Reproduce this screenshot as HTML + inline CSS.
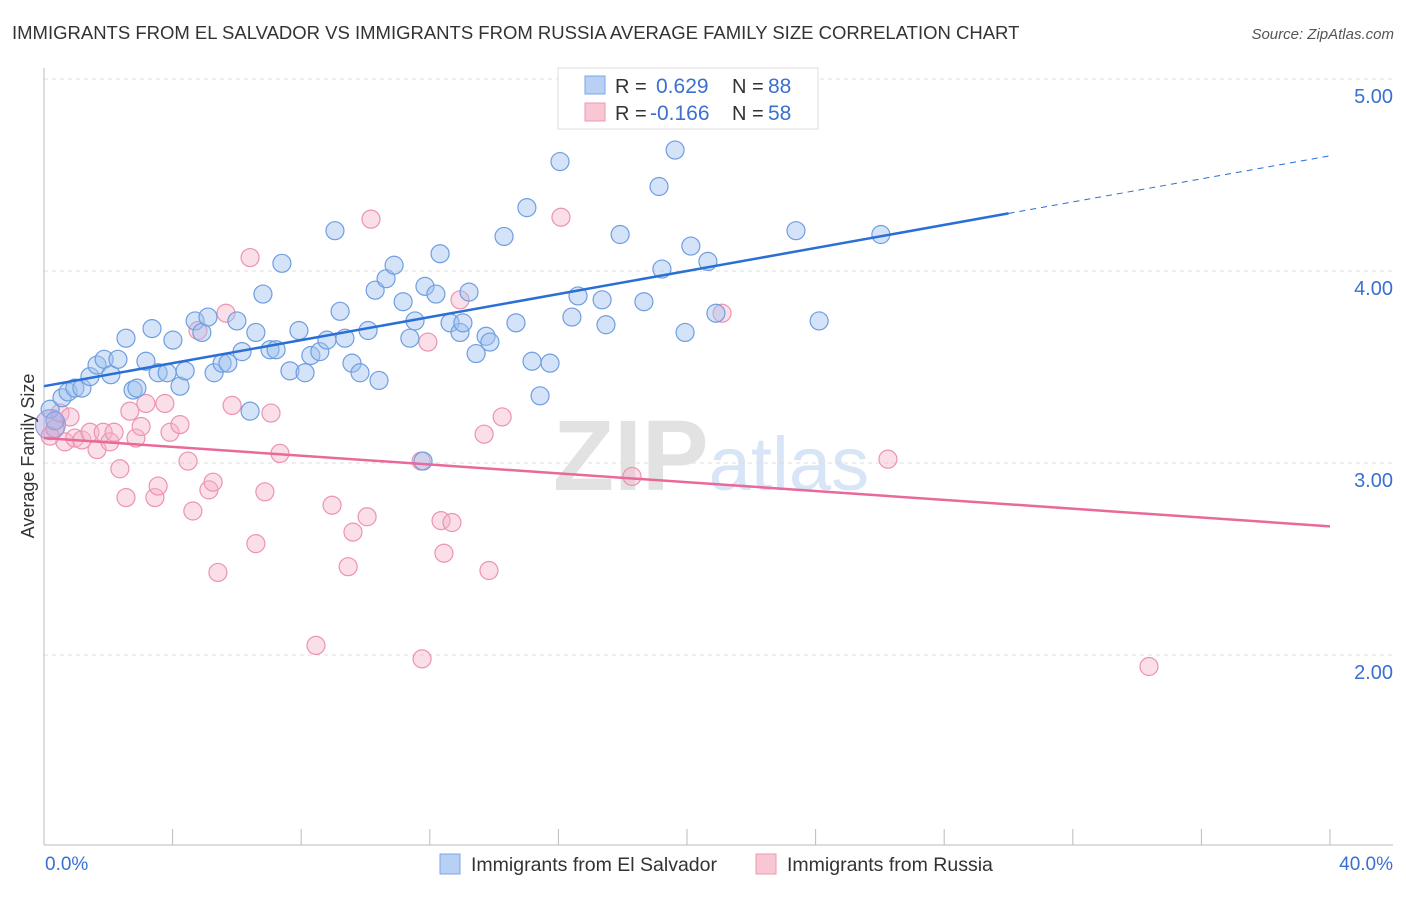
<!DOCTYPE html>
<html><head><meta charset="utf-8"><style>
body{margin:0;background:#fff;font-family:"Liberation Sans",sans-serif;}
svg text{font-family:"Liberation Sans",sans-serif;}
</style></head><body>
<svg id="chart" width="1406" height="892" viewBox="0 0 1406 892">
<text x="12" y="39" font-size="18.5" fill="#333">IMMIGRANTS FROM EL SALVADOR VS IMMIGRANTS FROM RUSSIA AVERAGE FAMILY SIZE CORRELATION CHART</text>
<text x="1394" y="39" font-size="15" fill="#555" font-style="italic" text-anchor="end">Source: ZipAtlas.com</text>
<text x="553" y="490" font-size="100" fill="#e6e6e6" font-family="Liberation Serif"><tspan font-weight="bold" fill="#e2e2e2">ZIP</tspan><tspan fill="#d8e5f6" font-family="Liberation Sans" font-size="76">atlas</tspan></text>
<g id="grid"></g>
<g id="axes"></g>
<g id="pts"></g>
<g id="trend"></g>
<text transform="translate(34,456) rotate(-90)" font-size="18" fill="#333" text-anchor="middle">Average Family Size</text>
<g>
<rect x="558" y="68" width="260" height="61" fill="#fff" stroke="#ddd"/>
<rect x="585" y="76" width="20" height="18" fill="#b7d0f3" stroke="#7aa7e6"/>
<text x="615" y="93" font-size="20" fill="#333">R = </text><text x="656" y="93" font-size="21" fill="#3a70d0">0.629</text>
<text x="732" y="93" font-size="20" fill="#333">N = </text><text x="768" y="93" font-size="21" fill="#3a70d0">88</text>
<rect x="585" y="103" width="20" height="18" fill="#f9c6d4" stroke="#ec9ab3"/>
<text x="615" y="120" font-size="20" fill="#333">R = </text><text x="650" y="120" font-size="21" fill="#3a70d0">-0.166</text>
<text x="732" y="120" font-size="20" fill="#333">N = </text><text x="768" y="120" font-size="21" fill="#3a70d0">58</text>
</g>
<g>
<rect x="440" y="854" width="20" height="20" fill="#b7d0f3" stroke="#7aa7e6"/>
<text x="471" y="871" font-size="19.5" fill="#333">Immigrants from El Salvador</text>
<rect x="756" y="854" width="20" height="20" fill="#f9c6d4" stroke="#ec9ab3"/>
<text x="787" y="871" font-size="19.5" fill="#333">Immigrants from Russia</text>
</g>
<text x="45" y="870" font-size="19" fill="#3a70d0">0.0%</text>
<text x="1393" y="870" font-size="19" fill="#3a70d0" text-anchor="end">40.0%</text>
</svg>
<script>
const yTicks=[2,3,4,5];
const yTickLabels=["2.00","3.00","4.00","5.00"];
const xTicks=[0,4,8,12,16,20,24,28,32,36,40];
const blueX=[0.19,0.34,0.56,0.75,0.96,1.18,1.43,1.65,1.87,2.08,2.30,2.55,2.77,2.89,3.17,3.36,3.55,3.83,4.01,4.23,4.39,4.70,4.91,5.10,5.29,5.54,5.72,6.00,6.16,6.41,6.59,6.81,7.03,7.22,7.40,7.65,7.93,8.12,8.30,8.58,8.80,9.05,9.21,9.36,9.58,9.83,10.08,10.30,10.42,10.64,10.89,11.17,11.38,11.54,11.79,11.85,12.19,12.32,12.63,12.94,13.03,13.22,13.44,13.75,13.87,14.31,14.68,15.02,15.18,15.43,15.74,16.05,16.42,16.61,17.36,17.48,17.92,18.66,19.13,19.22,19.63,19.94,20.12,20.65,20.90,23.39,24.11,26.03];
const blueY=[3.28,3.22,3.34,3.37,3.39,3.39,3.45,3.51,3.54,3.46,3.54,3.65,3.38,3.39,3.53,3.70,3.47,3.47,3.64,3.40,3.48,3.74,3.68,3.76,3.47,3.52,3.52,3.74,3.58,3.27,3.68,3.88,3.59,3.59,4.04,3.48,3.69,3.47,3.56,3.58,3.64,4.21,3.79,3.65,3.52,3.47,3.69,3.90,3.43,3.96,4.03,3.84,3.65,3.74,3.01,3.92,3.88,4.09,3.73,3.68,3.73,3.89,3.57,3.66,3.63,4.18,3.73,4.33,3.53,3.35,3.52,4.57,3.76,3.87,3.85,3.72,4.19,3.84,4.44,4.01,4.63,3.68,4.13,4.05,3.78,4.21,3.74,4.19];
const pinkX=[0.19,0.34,0.50,0.65,0.81,0.96,1.18,1.43,1.65,1.84,2.05,2.18,2.36,2.55,2.67,2.86,3.02,3.17,3.45,3.55,3.76,3.92,4.23,4.48,4.63,4.79,5.13,5.26,5.41,5.66,5.85,6.41,6.59,6.87,7.06,7.34,8.46,8.96,9.46,9.61,10.05,10.17,11.73,11.76,11.94,12.35,12.44,12.69,12.94,13.69,13.84,14.25,16.08,18.29,21.09,26.25,34.37];
const pinkY=[3.14,3.18,3.26,3.11,3.24,3.13,3.12,3.16,3.07,3.16,3.11,3.16,2.97,2.82,3.27,3.13,3.19,3.31,2.82,2.88,3.31,3.16,3.20,3.01,2.75,3.69,2.86,2.90,2.43,3.78,3.30,4.07,2.58,2.85,3.26,3.05,2.05,2.78,2.46,2.64,2.72,4.27,3.01,1.98,3.63,2.70,2.53,2.69,3.85,3.15,2.44,3.24,4.28,2.93,3.78,3.02,1.94];
const blueTrend=[3.40,4.30,4.60]; // at x=0, 30, 40
const pinkTrend=[3.13,2.67]; // at x=0, 40

const NS="http://www.w3.org/2000/svg";
const X=v=>44+v/40*1286;
const Y=v=>463-(v-3)*192;
function mk(tag,attrs,parent){const e=document.createElementNS(NS,tag);for(const k in attrs)e.setAttribute(k,attrs[k]);parent.appendChild(e);return e;}
const grid=document.getElementById('grid'),axes=document.getElementById('axes'),pts=document.getElementById('pts'),trend=document.getElementById('trend');
yTicks.forEach((t,i)=>{
 const l=mk('line',{x1:44,x2:1393,y1:Y(t),y2:Y(t),stroke:'#ddd','stroke-dasharray':'4,4'},grid);
 
 
 const tx=mk('text',{x:1393,y:Y(t)+24,'font-size':20,fill:'#3a70d0','text-anchor':'end'},grid);
 tx.textContent=yTickLabels[i];
 
 
});
const ya=mk('line',{x1:44,x2:44,y1:68,y2:845,stroke:'#bbb'},axes);


const xa=mk('line',{x1:44,x2:1393,y1:845,y2:845,stroke:'#bbb'},axes);


xTicks.forEach(t=>{
 const l=mk('line',{x1:X(t),x2:X(t),y1:829,y2:845,stroke:'#bbb'},axes);
 
 
});
pinkX.forEach((x,i)=>{
 const c=mk('circle',{cx:X(x),cy:Y(pinkY[i]),r:9,fill:'rgba(246,178,200,0.42)',stroke:'#ec93b0','stroke-width':1.2},pts);
 
 
});
blueX.forEach((x,i)=>{
 const c=mk('circle',{cx:X(x),cy:Y(blueY[i]),r:9,fill:'rgba(160,192,240,0.45)',stroke:'#6f9ee0','stroke-width':1.2},pts);
 
 
});
const big=mk('circle',{cx:X(0.2),cy:Y(3.2),r:15,fill:'rgba(170,160,220,0.45)',stroke:'#9a9ee0','stroke-width':1.2},pts);


const bt=mk('line',{x1:X(0),y1:Y(blueTrend[0]),x2:X(30),y2:Y(blueTrend[1]),stroke:'#2a6fd6','stroke-width':2.5},trend);


const bd=mk('line',{x1:X(30),y1:Y(blueTrend[1]),x2:X(40),y2:Y(blueTrend[2]),stroke:'#2a6fd6','stroke-width':1,'stroke-dasharray':'6,5'},trend);


const pt=mk('line',{x1:X(0),y1:Y(pinkTrend[0]),x2:X(40),y2:Y(pinkTrend[1]),stroke:'#e8699a','stroke-width':2.5},trend);


</script>
</body></html>
